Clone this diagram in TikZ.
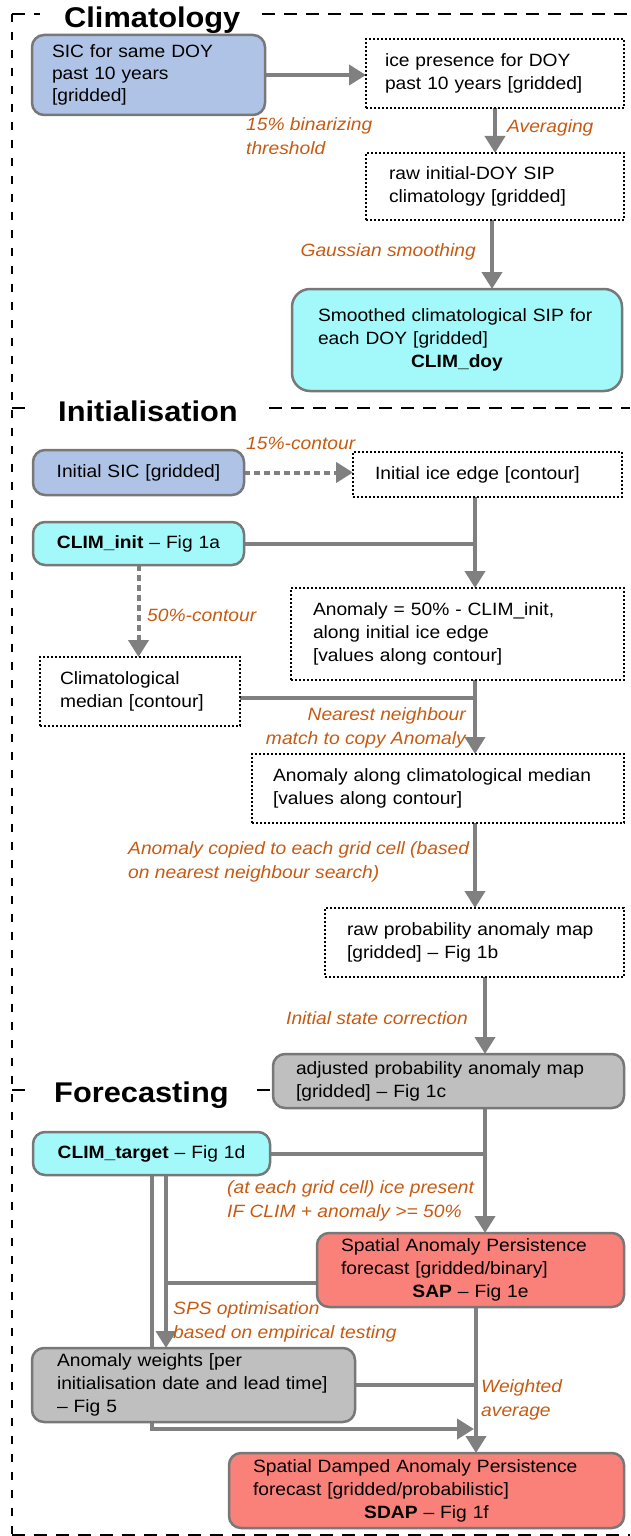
\documentclass[tikz,border=0pt]{standalone}
\usepackage{fontspec}
\setmainfont[FakeStretch=1.08]{Liberation Sans}
\usetikzlibrary{arrows.meta,backgrounds}
\definecolor{bluefill}{RGB}{174,195,230}
\definecolor{cyanfill}{RGB}{163,249,249}
\definecolor{grayfill}{RGB}{191,191,191}
\definecolor{redfill}{RGB}{250,128,122}
\definecolor{bordergray}{RGB}{120,120,120}
\definecolor{linegray}{RGB}{128,128,128}
\definecolor{lblorange}{RGB}{199,90,18}
\newcommand\fbody{\fontsize{17.8}{23}\selectfont}
\newcommand\flbl{\fontsize{17.8}{24}\selectfont\itshape}
\newcommand\fhead{\fontsize{28.5}{32}\selectfont\bfseries}
\tikzset{
 boxbase/.style={anchor=north west, inner ysep=0pt, outer sep=0pt, font=\fbody, align=left},
 rbox/.style={boxbase, draw=bordergray, line width=2.5pt, rounded corners=12pt},
 dbox/.style={boxbase, draw=black, line width=2pt, dash pattern=on 2pt off 2pt},
 conn/.style={draw=linegray, line width=4pt},
 arr/.style={conn, -{Triangle[length=17pt,width=20pt]}},
 darr/.style={arr, dash pattern=on 6pt off 4pt},
 lbl/.style={font=\flbl, text=lblorange, inner sep=0pt},
 head/.style={font=\fhead, anchor=base west, inner sep=0pt},
 frame/.style={draw=black, line width=2pt, dash pattern=on 13pt off 9pt},
 vframe/.style={draw=black, line width=2pt, dash pattern=on 8pt off 10pt},
}
\newcommand\mkbox[8]{%
 \pgfmathsetmacro\bw{#5-#3}%
 \pgfmathsetmacro\bh{#6-#4}%
 \pgfmathsetmacro\tw{#5-#3-2*#7}%
 \node[#2, minimum width=\bw pt, minimum height=\bh pt, text width=\tw pt, inner xsep=#7pt] (#1) at (#3,#4) {#8};}
\begin{document}
\begin{tikzpicture}[x=1pt,y=-1pt]
\useasboundingbox (0,0) rectangle (630,1536);
% frame
\draw[frame] (12,14) -- (40,14);
\draw[frame] (262,14) -- (630,14);
\draw[vframe] (12,14) -- (12,1536);
\draw[frame] (12,408) -- (32,408);
\draw[frame] (269,408) -- (630,408);
\draw[frame] (12,1090) -- (33,1090);
\draw[frame] (257,1090) -- (273,1090);
\draw[frame] (12,1535) -- (630,1535);
% headings
\node[head] (h1) at (64,28) {Climatology};
\node[head] (h2) at (58,421) {Initialisation};
\node[head] (h3) at (54,1102) {Forecasting};
% boxes
\mkbox{sic}{rbox,fill=bluefill,font=\fontsize{17.8}{22}\selectfont}{32}{35}{265}{115}{20}{SIC for same DOY\\past 10 years\\{[gridded]}}
\mkbox{icep}{dbox}{366}{39}{624}{108}{19}{ice presence for DOY\\past 10 years [gridded]}
\mkbox{rawdoy}{dbox}{366}{153}{624}{220}{23}{raw initial-DOY SIP\\climatology [gridded]}
\mkbox{smooth}{rbox,fill=cyanfill,rounded corners=18pt}{292}{289}{622}{391}{26}{Smoothed climatological SIP for\\each DOY [gridded]\\\makebox[\hsize][c]{\textbf{CLIM\_doy}}}
\mkbox{initsic}{rbox,fill=bluefill,align=center}{33}{450}{244}{495}{5}{Initial SIC [gridded]}
\mkbox{iceedge}{dbox}{353}{452}{622}{497}{22}{Initial ice edge [contour]}
\mkbox{climinit}{rbox,fill=cyanfill,align=center}{33}{522}{244}{565}{5}{\textbf{CLIM\_init} – Fig 1a}
\mkbox{anom}{dbox}{291}{588}{624}{680}{22}{Anomaly = 50\% - CLIM\_init,\\along initial ice edge\\{[values along contour]}}
\mkbox{climmed}{dbox}{40}{657}{240}{726}{20}{Climatological\\median [contour]}
\mkbox{anomalong}{dbox}{252}{754}{624}{823}{21}{Anomaly along climatological median\\{[values along contour]}}
\mkbox{rawprob}{dbox}{325}{908}{624}{977}{22}{raw probability anomaly map\\{[gridded]} – Fig 1b}
\mkbox{adj}{rbox,fill=grayfill}{273}{1054}{624}{1108}{23}{adjusted probability anomaly map\\{[gridded]} – Fig 1c}
\mkbox{target}{rbox,fill=cyanfill,align=center}{33}{1132}{270}{1175}{5}{\textbf{CLIM\_target} – Fig 1d}
\mkbox{sap}{rbox,fill=redfill}{317}{1233}{624}{1307}{24}{Spatial Anomaly Persistence\\forecast [gridded/binary]\\\makebox[\hsize][c]{\textbf{SAP} – Fig 1e}}
\mkbox{weights}{rbox,fill=grayfill}{32}{1348}{355}{1422}{25}{Anomaly weights [per\\initialisation date and lead time]\\– Fig 5}
\mkbox{sdap}{rbox,fill=redfill}{229}{1453}{624}{1528}{24}{Spatial Damped Anomaly Persistence\\forecast [gridded/probabilistic]\\\makebox[\hsize][c]{\textbf{SDAP} – Fig 1f}}
% labels
\node[lbl, anchor=west, align=left] (l1) at (246,136.5) {15\% binarizing\\threshold};
\node[lbl, anchor=west] (l2) at (507,128) {Averaging};
\node[lbl, anchor=east] (l3) at (476,252) {Gaussian smoothing};
\node[lbl, anchor=west] (l4) at (246,443) {15\%-contour};
\node[lbl, anchor=west] (l5) at (147,615) {50\%-contour};
\node[lbl, anchor=east, align=right] (l6) at (466,728) {Nearest neighbour\\match to copy Anomaly};
\node[lbl, anchor=west, align=left] (l7) at (128,861.5) {Anomaly copied to each grid cell (based\\on nearest neighbour search)};
\node[lbl, anchor=east] (l8) at (468,1018) {Initial state correction};
\node[lbl, anchor=west, align=left] (l9) at (227,1200.5) {(at each grid cell) ice present\\IF CLIM + anomaly >= 50\%};
\node[lbl, anchor=west, align=left] (l10) at (173,1321.5) {SPS optimisation\\based on empirical testing};
\node[lbl, anchor=west, align=left] (l11) at (481,1400) {Weighted\\average};
% spine coordinates
\coordinate (sA) at (475,0);
\coordinate (sB) at (485,0);
\coordinate (sC) at (166,0);
\coordinate (sD) at (152,0);
\coordinate (sE) at (476,0);
\coordinate (tip) at (474,1429);
\begin{pgfonlayer}{background}
\draw[arr] (sic.east) -- (sic.east -| icep.west);
\draw[arr] (icep.south) -- (rawdoy.north);
\draw[arr] ([xshift=-3pt]rawdoy.south) -- ([xshift=-3pt]rawdoy.south |- smooth.north);
\draw[darr] (initsic.east) -- (initsic.east -| iceedge.west);
\draw[arr] (iceedge.south -| sA) -- (anom.north -| sA);
\draw[conn] (climinit.east) -- (climinit.east -| sA);
\draw[darr] (climinit.south) -- (climinit.south |- climmed.north);
\draw[arr] (anom.south -| sA) -- (anomalong.north -| sA);
\draw[conn] ([yshift=-6pt]climmed.east) -- ([yshift=-6pt]climmed.east -| sA);
\draw[arr] (anomalong.south -| sA) -- (rawprob.north -| sA);
\draw[arr] (rawprob.south -| sB) -- (adj.north -| sB);
\draw[arr] (adj.south -| sB) -- (sap.north -| sB);
\draw[conn] (target.east) -- (target.east -| sB);
\draw[arr] (target.south -| sC) -- (weights.north -| sC);
\draw[conn] ([yshift=-13pt]sap.west) -- ([yshift=-13pt]sap.west -| sC);
\draw[arr] (target.south -| sD) |- (tip);
\draw[arr] (sap.south -| sE) -- (sdap.north -| sE);
\draw[conn] (weights.east) -- (weights.east -| sE);
\end{pgfonlayer}
\end{tikzpicture}
\end{document}
